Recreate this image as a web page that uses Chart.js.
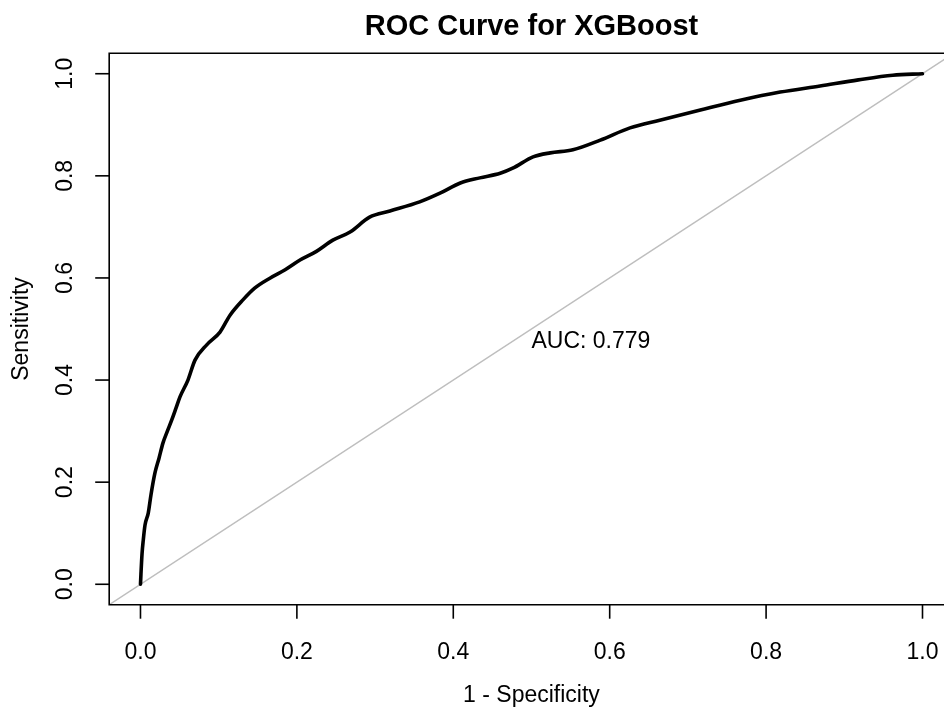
<!DOCTYPE html>
<html>
<head>
<meta charset="utf-8">
<title>ROC Curve for XGBoost</title>
<script src="https://cdn.jsdelivr.net/npm/chart.js@4/dist/chart.umd.min.js"></script>
<style>
  html, body { margin: 0; padding: 0; background: #fff; overflow: hidden; }
  canvas { display: block; }
</style>
</head>
<body>
<canvas id="roc" width="944" height="707"></canvas>
<script>
// ROC curve points: false positive rate (1 - specificity) and true positive rate (sensitivity)
const fpr = [0, 0.0006, 0.002, 0.0036, 0.0058, 0.010, 0.0134, 0.0185, 0.0237, 0.0288,
  0.0339, 0.040, 0.0454, 0.0505, 0.0607, 0.0697, 0.0847, 0.1017, 0.1145, 0.131,
  0.146, 0.166, 0.185, 0.204, 0.225, 0.246, 0.268, 0.293, 0.319, 0.357,
  0.383, 0.409, 0.434, 0.460, 0.476, 0.502, 0.524, 0.553, 0.588, 0.626,
  0.664, 0.716, 0.767, 0.818, 0.869, 0.918, 0.962, 1];
const tpr = [0, 0.02, 0.06, 0.087, 0.116, 0.140, 0.175, 0.218, 0.247, 0.277,
  0.298, 0.322, 0.345, 0.367, 0.400, 0.439, 0.469, 0.494, 0.527, 0.557,
  0.580, 0.600, 0.616, 0.635, 0.652, 0.674, 0.690, 0.719, 0.731, 0.749,
  0.766, 0.786, 0.796, 0.805, 0.815, 0.837, 0.845, 0.851, 0.870, 0.894,
  0.909, 0.929, 0.948, 0.964, 0.976, 0.988, 0.997, 1];

// Reference diagonal (chance line)
const chanceX = [-0.04, 1.04];
const chanceY = [-0.04, 1.04];

const AUC = 0.779;

const xTicks = [0, 0.2, 0.4, 0.6, 0.8, 1.0];
const xTickLabels = ['0.0', '0.2', '0.4', '0.6', '0.8', '1.0'];
const yTicks = [0, 0.2, 0.4, 0.6, 0.8, 1.0];
const yTickLabels = ['0.0', '0.2', '0.4', '0.6', '0.8', '1.0'];

const chartTitle = 'ROC Curve for XGBoost';
const xTitle = '1 - Specificity';
const yTitle = 'Sensitivity';

const FONT = '"Liberation Sans", Arial, Helvetica, sans-serif';

// Base-graphics style frame: box, outward ticks, rotated y labels, titles, AUC text
const basePlotDecor = {
  id: 'basePlotDecor',
  afterDraw(chart) {
    const { ctx, chartArea: a, scales: { x, y } } = chart;
    const W = chart.width;
    ctx.save();
    ctx.strokeStyle = '#000';
    ctx.lineWidth = 1.6;

    // box (the right side lies beyond the canvas)
    ctx.beginPath();
    ctx.moveTo(W + 2, a.top);
    ctx.lineTo(a.left, a.top);
    ctx.lineTo(a.left, a.bottom);
    ctx.lineTo(W + 2, a.bottom);
    ctx.stroke();

    const tickLen = 14;
    ctx.fillStyle = '#000';
    ctx.font = '23px ' + FONT;

    // x axis ticks and labels
    ctx.textAlign = 'center';
    ctx.textBaseline = 'alphabetic';
    xTicks.forEach((v, i) => {
      const px = x.getPixelForValue(v);
      ctx.beginPath();
      ctx.moveTo(px, a.bottom);
      ctx.lineTo(px, a.bottom + tickLen);
      ctx.stroke();
      ctx.fillText(xTickLabels[i], px, a.bottom + 54.5);
    });

    // y axis ticks and rotated labels
    yTicks.forEach((v, i) => {
      const py = y.getPixelForValue(v);
      ctx.beginPath();
      ctx.moveTo(a.left, py);
      ctx.lineTo(a.left - tickLen, py);
      ctx.stroke();
      ctx.save();
      ctx.translate(a.left - 37.2, py);
      ctx.rotate(-Math.PI / 2);
      ctx.textAlign = 'center';
      ctx.textBaseline = 'alphabetic';
      ctx.fillText(yTickLabels[i], 0, 0);
      ctx.restore();
    });

    // axis titles
    ctx.textAlign = 'center';
    ctx.fillText(xTitle, (x.getPixelForValue(-0.04) + x.getPixelForValue(1.04)) / 2, a.bottom + 97);
    ctx.save();
    ctx.translate(a.left - 81, (a.top + a.bottom) / 2);
    ctx.rotate(-Math.PI / 2);
    ctx.fillText(yTitle, 0, 0);
    ctx.restore();

    // AUC annotation, top-left anchored at (0.5, 0.5)
    ctx.textAlign = 'left';
    ctx.textBaseline = 'alphabetic';
    ctx.fillText('AUC: ' + AUC.toFixed(3), x.getPixelForValue(0.5), y.getPixelForValue(0.5) + 19);

    // main title centred over the full plot region
    ctx.font = 'bold 29px ' + FONT;
    ctx.textAlign = 'center';
    ctx.fillText(chartTitle, (x.getPixelForValue(-0.04) + x.getPixelForValue(1.04)) / 2, 35);

    ctx.restore();
  }
};

new Chart(document.getElementById('roc'), {
  type: 'scatter',
  data: {
    datasets: [
      {
        label: 'chance',
        data: chanceX.map((v, i) => ({ x: v, y: chanceY[i] })),
        showLine: true,
        borderColor: '#BEBEBE',
        borderWidth: 1.5,
        pointRadius: 0,
        clip: 0,
        order: 2
      },
      {
        label: 'XGBoost',
        data: fpr.map((v, i) => ({ x: v, y: tpr[i] })),
        showLine: true,
        borderColor: '#000',
        borderWidth: 3.6,
        borderJoinStyle: 'round',
        borderCapStyle: 'round',
        cubicInterpolationMode: 'monotone',
        pointRadius: 0,
        clip: false,
        order: 1
      }
    ]
  },
  options: {
    responsive: false,
    animation: false,
    devicePixelRatio: 1,
    layout: { padding: { top: 53.3, left: 0, right: 0, bottom: 0 } },
    plugins: {
      legend: { display: false },
      title: { display: false },
      tooltip: { enabled: false }
    },
    scales: {
      x: {
        type: 'linear',
        min: -0.04,
        max: 1.0275,
        grid: { display: false },
        border: { display: false },
        ticks: { display: false },
        afterFit(scale) { scale.height = 102.3; }
      },
      y: {
        type: 'linear',
        min: -0.04,
        max: 1.04,
        grid: { display: false },
        border: { display: false },
        ticks: { display: false },
        afterFit(scale) { scale.width = 109.2; }
      }
    }
  },
  plugins: [basePlotDecor]
});
</script>
</body>
</html>
